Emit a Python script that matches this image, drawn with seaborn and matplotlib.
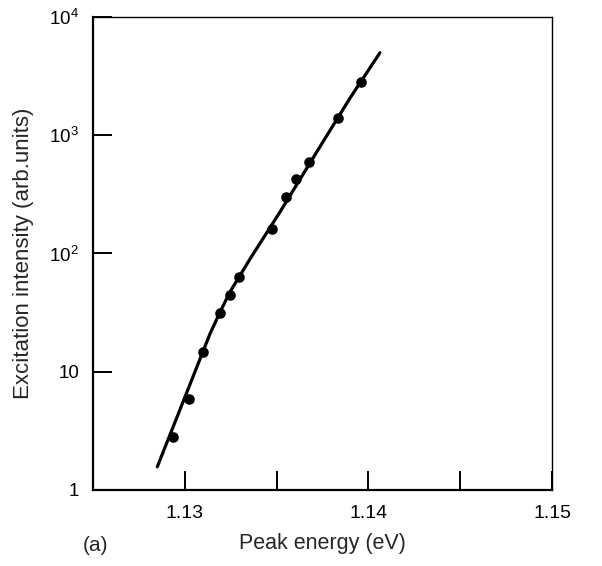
import matplotlib
matplotlib.use("Agg")
import matplotlib.pyplot as plt
import seaborn as sns
import pandas as pd

# measured points (peak energy in eV, excitation intensity in arb. units)
energy = [1.12934, 1.13023, 1.13098, 1.13192, 1.13246, 1.13297,
          1.13473, 1.13551, 1.13607, 1.13676, 1.13836, 1.13960]
intensity = [2.82, 5.85, 14.8, 31.2, 44.6, 63.7,
             160, 299, 424, 598, 1408, 2804]

# hand drawn guide curve
curve_energy = [1.12850, 1.13001, 1.13137, 1.13192, 1.13246,
                1.13355, 1.13518, 1.13725, 1.13900, 1.14063]
curve_intensity = [1.57, 6.12, 20.9, 32.0, 47.3,
                   89.8, 224, 750, 2065, 4990]

xticks = [1.13, 1.135, 1.14, 1.145, 1.15]
xticklabels = ["1.13", "", "1.14", "", "1.15"]
yticks = [1, 10, 100, 1000, 10000]
yticklabels = ["1", "10", r"$10^2$", r"$10^3$", r"$10^4$"]

sns.set_theme(style="ticks")
plt.rcParams["font.family"] = ["Liberation Sans", "DejaVu Sans"]
plt.rcParams["mathtext.fontset"] = "custom"
plt.rcParams["mathtext.rm"] = "Liberation Sans"
plt.rcParams["mathtext.it"] = "Liberation Sans"

df_pts = pd.DataFrame({"energy": energy, "intensity": intensity})
df_curve = pd.DataFrame({"energy": curve_energy, "intensity": curve_intensity})

fig = plt.figure(figsize=(6.02, 5.66), dpi=100)
ax = fig.add_axes([0.1545, 0.1343, 0.7625, 0.8357])

sns.lineplot(data=df_curve, x="energy", y="intensity", color="black",
             linewidth=2.3, ax=ax, sort=False)
sns.scatterplot(data=df_pts, x="energy", y="intensity", color="black",
                s=58, edgecolor="black", linewidth=0, ax=ax, zorder=3)

ax.set_yscale("log")
ax.set_xlim(1.125, 1.15)
ax.set_ylim(1, 10000)
ax.set_xticks(xticks)
ax.set_xticklabels(xticklabels)
ax.set_yticks(yticks)
ax.set_yticklabels(yticklabels)
ax.minorticks_off()

ax.tick_params(axis="both", direction="in", length=13.5, width=1.4,
               colors="black")
ax.tick_params(axis="x", pad=11, labelsize=14)
ax.tick_params(axis="y", pad=10, labelsize=13.5)

for side in ["left", "bottom"]:
    ax.spines[side].set_linewidth(1.6)
for side in ["top", "right"]:
    ax.spines[side].set_linewidth(1.0)
for s in ax.spines.values():
    s.set_color("black")

ax.set_xlabel("Peak energy (eV)", fontsize=15.5, labelpad=8)
ax.set_ylabel("Excitation intensity (arb.units)", fontsize=16, labelpad=11)
fig.text(0.158, 0.037, "(a)", fontsize=15, ha="center", va="center")

fig.savefig("out.png", dpi=100)
